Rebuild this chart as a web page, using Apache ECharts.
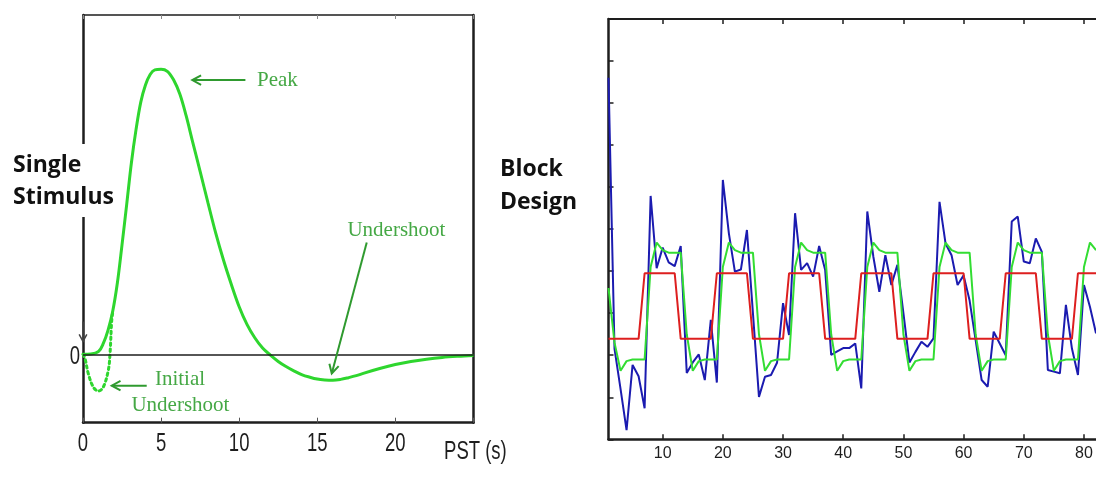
<!DOCTYPE html>
<html>
<head>
<meta charset="utf-8">
<script src="https://cdn.jsdelivr.net/npm/echarts@6/dist/echarts.min.js"></script>
<style>
  html, body { margin: 0; padding: 0; background: #ffffff; }
  #main { width: 1096px; height: 479px; }
</style>
</head>
<body>
<div id="main"></div>
<script>
// ---- Single stimulus: haemodynamic response vs. peri-stimulus time (s) ----
const hrfTime = [0, 0.5, 1.0, 1.3, 1.6, 1.9, 2.2, 2.5, 2.8, 3.1, 3.4, 3.7, 4.0, 4.3, 4.6, 5.0,
  5.4, 5.8, 6.2, 6.6, 7.0, 7.5, 8.0, 8.5, 9.0, 9.5, 10.0, 10.5, 11.0, 11.5, 12.0, 12.5, 13.0,
  13.5, 14.0, 14.5, 15.0, 15.5, 16.0, 16.5, 17.0, 17.5, 18.0, 19.0, 20.0, 21.0, 22.0, 23.0, 24.0, 25.0];
const hrfValue = [0, 0.001, 0.01, 0.038, 0.084, 0.15, 0.25, 0.385, 0.527, 0.672, 0.79, 0.885, 0.945,
  0.982, 0.998, 1.0, 0.993, 0.963, 0.913, 0.838, 0.75, 0.642, 0.532, 0.425, 0.33, 0.245, 0.167,
  0.105, 0.058, 0.022, -0.003, -0.025, -0.043, -0.058, -0.071, -0.08, -0.087, -0.09, -0.091,
  -0.088, -0.082, -0.075, -0.066, -0.05, -0.036, -0.025, -0.017, -0.011, -0.007, -0.004];
// initial dip (dotted)
const dipTime = [0, 0.13, 0.34, 0.66, 0.98, 1.3, 1.62, 1.73, 1.84, 1.92];
const dipValue = [0, -0.015, -0.068, -0.115, -0.129, -0.115, -0.056, 0.002, 0.119, 0.154];
const pstTicks = [0, 5, 10, 15, 20];
const pstAxisName = 'PST (s)';

// ---- Block design: one sample per scan, scans 1..82 ----
const measured = [8.6, 2.15, 1.2, 0.22, 1.77, 1.5, 0.74, 5.79, 4.07, 4.56, 4.21, 4.12, 4.6, 1.58,
  1.83, 2.02, 1.41, 2.84, 1.35, 6.17, 4.9, 3.99, 4.04, 4.98, 3.0, 1.01, 1.49, 1.53, 1.82, 3.24,
  2.48, 5.38, 4.03, 4.19, 3.87, 4.6, 4.03, 2.01, 2.09, 2.17, 2.17, 2.28, 1.21, 5.42, 4.35, 3.51,
  4.38, 3.67, 4.15, 3.0, 1.83, 2.08, 2.32, 2.2, 2.4, 5.65, 4.66, 4.38, 3.67, 3.9, 3.3, 2.36, 1.41,
  1.25, 2.56, 2.28, 2.0, 5.18, 5.3, 4.23, 4.19, 4.78, 4.46, 1.65, 1.61, 1.57, 3.2, 2.16, 1.53,
  3.67, 3.15, 2.52];
const modelled = [3.6, 2.3, 1.63, 1.86, 1.9, 1.9,
  1.9, 4.1, 4.68, 4.5, 4.44, 4.44, 4.44, 2.5, 1.63, 1.86, 1.9, 1.9,
  1.9, 4.1, 4.68, 4.5, 4.44, 4.44, 4.44, 2.5, 1.63, 1.86, 1.9, 1.9,
  1.9, 4.1, 4.68, 4.5, 4.44, 4.44, 4.44, 2.5, 1.63, 1.86, 1.9, 1.9,
  1.9, 4.1, 4.68, 4.5, 4.44, 4.44, 4.44, 2.5, 1.63, 1.86, 1.9, 1.9,
  1.9, 4.1, 4.68, 4.5, 4.44, 4.44, 4.44, 2.5, 1.63, 1.86, 1.9, 1.9,
  1.9, 4.1, 4.68, 4.5, 4.44, 4.44, 4.44, 2.5, 1.63, 1.86, 1.9, 1.9,
  1.9, 4.1, 4.68, 4.5];
const boxcar = [2.39, 2.39, 2.39, 2.39, 2.39, 2.39,
  3.95, 3.95, 3.95, 3.95, 3.95, 3.95, 2.39, 2.39, 2.39, 2.39, 2.39, 2.39,
  3.95, 3.95, 3.95, 3.95, 3.95, 3.95, 2.39, 2.39, 2.39, 2.39, 2.39, 2.39,
  3.95, 3.95, 3.95, 3.95, 3.95, 3.95, 2.39, 2.39, 2.39, 2.39, 2.39, 2.39,
  3.95, 3.95, 3.95, 3.95, 3.95, 3.95, 2.39, 2.39, 2.39, 2.39, 2.39, 2.39,
  3.95, 3.95, 3.95, 3.95, 3.95, 3.95, 2.39, 2.39, 2.39, 2.39, 2.39, 2.39,
  3.95, 3.95, 3.95, 3.95, 3.95, 3.95, 2.39, 2.39, 2.39, 2.39, 2.39, 2.39,
  3.95, 3.95, 3.95, 3.95];
const blockTicks = [10, 20, 30, 40, 50, 60, 70, 80];

const INK = '#1e1e1e';
const CURVE_GREEN = '#2ed62e';
const NOTE_GREEN = '#45a845';
const ARROW_GREEN = '#2f9a2f';
const PST_MIN = -0.24, PST_MAX = 1.1905;

const pairs = (xs, ys) => xs.map((x, i) => [x, ys[i]]);
const byScan = ys => ys.map((y, i) => [i + 1, y]);

const chart = echarts.init(document.getElementById('main'), null, { renderer: 'canvas' });

const noSplit = { show: false };
const frame = w => ({ show: true, onZero: false, lineStyle: { color: INK, width: w } });
chart.setOption({
  animation: false,
  backgroundColor: '#ffffff',
  grid: [
    { left: 83, top: 15, width: 390.4, height: 407.7 },
    { left: 608.5, top: 19, width: 487.5, height: 420.3 }
  ],
  xAxis: [
    { gridIndex: 0, type: 'value', position: 'bottom', min: 0, max: 25, interval: 5,
      axisLine: frame(2.5),
      axisTick: { inside: true, length: 5, lineStyle: { color: '#555', width: 1 } },
      axisLabel: { show: false }, splitLine: noSplit },
    { gridIndex: 0, type: 'value', position: 'top', min: 0, max: 25, interval: 5,
      axisLine: frame(1.5),
      axisTick: { inside: true, length: 4, lineStyle: { color: '#888', width: 1 } },
      axisLabel: { show: false }, splitLine: noSplit },
    { gridIndex: 1, type: 'value', position: 'bottom', min: 1, max: 82,
      axisLine: frame(2.5),
      axisTick: { inside: true, length: 5, customValues: blockTicks, lineStyle: { color: INK, width: 1.5 } },
      axisLabel: { customValues: blockTicks, margin: 6, color: INK, fontFamily: "'Liberation Sans', Arial, sans-serif", fontSize: 16 },
      splitLine: noSplit },
    { gridIndex: 1, type: 'value', position: 'top', min: 1, max: 82,
      axisLine: frame(2),
      axisTick: { inside: true, length: 5, customValues: blockTicks, lineStyle: { color: INK, width: 1.5 } },
      axisLabel: { show: false }, splitLine: noSplit }
  ],
  yAxis: [
    { gridIndex: 0, type: 'value', position: 'left', min: PST_MIN, max: PST_MAX,
      axisLine: frame(2.5), axisTick: { show: false }, axisLabel: { show: false }, splitLine: noSplit },
    { gridIndex: 0, type: 'value', position: 'right', min: PST_MIN, max: PST_MAX,
      axisLine: frame(2.5), axisTick: { show: false }, axisLabel: { show: false }, splitLine: noSplit },
    { gridIndex: 1, type: 'value', position: 'left', min: 0, max: 10, interval: 1,
      axisLine: frame(2.5),
      axisTick: { inside: true, length: 5, lineStyle: { color: INK, width: 1.5 } },
      axisLabel: { show: false }, splitLine: noSplit }
  ],
  series: [
    { name: 'HRF', type: 'line', xAxisIndex: 0, yAxisIndex: 0, data: pairs(hrfTime, hrfValue),
      smooth: 0.35, showSymbol: false, silent: true,
      lineStyle: { color: CURVE_GREEN, width: 3 }, z: 3,
      markLine: { silent: true, symbol: ['none', 'none'], label: { show: false },
        lineStyle: { color: INK, width: 1.5, type: 'solid' }, data: [{ yAxis: 0 }] } },
    { name: 'Initial dip', type: 'line', xAxisIndex: 0, yAxisIndex: 0, data: pairs(dipTime, dipValue),
      smooth: 0.35, showSymbol: false, silent: true,
      lineStyle: { color: CURVE_GREEN, width: 3, type: [2.5, 3.5], cap: 'round' }, z: 3 },
    { name: 'Measured', type: 'line', xAxisIndex: 2, yAxisIndex: 2, data: byScan(measured),
      showSymbol: false, silent: true, lineStyle: { color: '#1b1bb0', width: 2 }, z: 2 },
    { name: 'Model', type: 'line', xAxisIndex: 2, yAxisIndex: 2, data: byScan(modelled),
      showSymbol: false, silent: true, lineStyle: { color: '#33dd33', width: 2 }, z: 3 },
    { name: 'Stimulus', type: 'line', xAxisIndex: 2, yAxisIndex: 2, data: byScan(boxcar),
      showSymbol: false, silent: true, lineStyle: { color: '#dd1f1f', width: 2 }, z: 4 }
  ]
});

// ---- annotations and condensed axis text, placed in data space of the left panel ----
const P = (t, v) => chart.convertToPixel({ gridIndex: 0 }, [t, v]);

function arrow(from, to, color, width, head) {
  const a = P(from[0], from[1]);
  const b = P(to[0], to[1]);
  const ang = Math.atan2(b[1] - a[1], b[0] - a[0]);
  const h = head || 9, s = 0.5;
  const l = [b[0] - h * Math.cos(ang - s), b[1] - h * Math.sin(ang - s)];
  const r = [b[0] - h * Math.cos(ang + s), b[1] - h * Math.sin(ang + s)];
  return [
    { type: 'line', silent: true, z: 10, shape: { x1: a[0], y1: a[1], x2: b[0], y2: b[1] },
      style: { stroke: color, lineWidth: width } },
    { type: 'polyline', silent: true, z: 10, shape: { points: [l, b, r] },
      style: { stroke: color, lineWidth: width, fill: null } }
  ];
}

function note(text, t, v, align) {
  const p = P(t, v);
  return { type: 'text', silent: true, z: 10, x: p[0], y: p[1],
    style: { text: text, fill: NOTE_GREEN, font: "21px 'Liberation Serif', 'Times New Roman', serif",
      align: align || 'center', verticalAlign: 'middle' } };
}

// narrow axis lettering: regular sans squeezed horizontally about its anchor
function narrowText(text, x, y, align) {
  return { type: 'text', silent: true, z: 10, x: x, y: y, scaleX: 0.74,
    style: { text: text, fill: INK, font: "25px 'Liberation Sans', Arial, sans-serif",
      align: align || 'center', verticalAlign: 'middle' } };
}

const axisText = pstTicks.map(v => {
  const p = P(v, PST_MIN);
  return narrowText(String(v), p[0], p[1] + 21.5);
});
const pEnd = P(25, PST_MIN);
axisText.push(narrowText(pstAxisName, pEnd[0] + 2, pEnd[1] + 29.5));
const pZero = P(0, 0);
axisText.push(narrowText('0', pZero[0] - 3, pZero[1] + 2.5, 'right'));

const labelFont = "bold 23px 'Open Sans', 'Noto Sans', sans-serif";
const elements = [].concat(
  arrow([10.4, 0.962], [7.0, 0.962], ARROW_GREEN, 2, 10),
  arrow([18.17, 0.392], [15.93, -0.067], ARROW_GREEN, 2, 10),
  arrow([4.08, -0.11], [1.84, -0.11], ARROW_GREEN, 2, 10),
  arrow([0, 0.115], [0, 0.045], '#444', 1.5, 8),
  axisText,
  [
    note('Peak', 11.14, 0.962, 'left'),
    note('Undershoot', 20.07, 0.433),
    note('Initial', 6.21, -0.09),
    note('Undershoot', 6.24, -0.181),
    { type: 'text', silent: true, z: 20, x: 12, y: 144,
      style: { text: 'Single\nStimulus', font: labelFont, fill: '#111', lineHeight: 32,
        align: 'left', verticalAlign: 'top', backgroundColor: '#ffffff', padding: [5, 4, 4, 1] } },
    { type: 'text', silent: true, z: 20, x: 500, y: 153,
      style: { text: 'Block\nDesign', font: labelFont, fill: '#111', lineHeight: 33,
        align: 'left', verticalAlign: 'top' } }
  ]
);
chart.setOption({ graphic: { elements: elements } });
</script>
</body>
</html>
